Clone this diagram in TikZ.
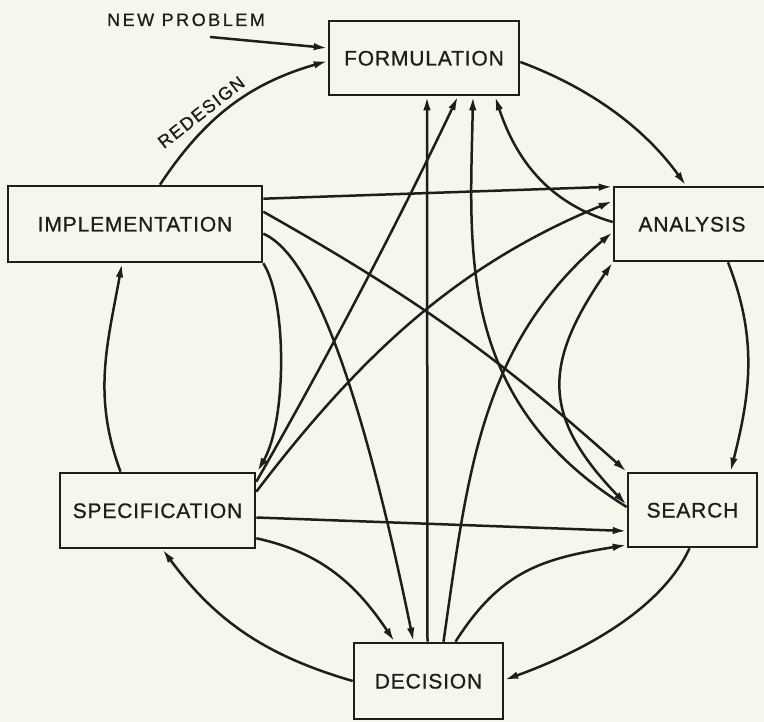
\documentclass[tikz,border=0pt]{standalone}
\usepackage{fontspec}
\newfontfamily\boxfont{Liberation Sans}[LetterSpace=4,FakeBold=0.8]
\newfontfamily\lblfont{Liberation Sans}[LetterSpace=14,FakeBold=0.8]
\newfontfamily\rdfont{Liberation Sans}[LetterSpace=8,FakeBold=0.8]
\usetikzlibrary{arrows.meta}
\definecolor{bg}{RGB}{245,246,236}
\definecolor{ink}{RGB}{30,30,28}
\begin{document}
\begin{tikzpicture}[x=1pt,y=-1pt,
  box/.style={draw=ink, line width=2.6pt, inner sep=0pt, text height=15pt, text depth=0pt,
    font=\boxfont\fontsize{21}{24}\selectfont, text=ink},
  arr/.style={draw=ink, line width=2.5pt, -{Latex[length=14pt,width=7.5pt]}},
  arrtwo/.style={draw=ink, line width=2.5pt, {Latex[length=14pt,width=7.5pt]}-{Latex[length=14pt,width=7.5pt]}},
  lbl/.style={font=\lblfont\fontsize{18}{20}\selectfont, text=ink, inner sep=0pt, text height=13pt, text depth=0pt}]
\fill[bg] (0,0) rectangle (764,722);
\useasboundingbox (0,0) rectangle (764,722);
\clip (0,0) rectangle (764,722);

% boxes
\node[box, minimum width=190pt, minimum height=74pt] (form) at (424,58) {FORMULATION};
\node[box, minimum width=254pt, minimum height=76pt] (impl) at (135,224) {IMPLEMENTATION};
\node[box, minimum width=156pt, minimum height=74pt] (anal) at (692,224) {ANALYSIS};
\node[box, minimum width=129pt, minimum height=74pt] (search) at (692.5,510) {SEARCH};
\node[box, minimum width=149pt, minimum height=76pt] (dec) at (428.5,681) {DECISION};
\node[box, minimum width=195pt, minimum height=75pt] (spec) at (157.5,510.5) {SPECIFICATION};

% labels
\node[lbl] (newprob) at (186,19.5) {NEW PROBLEM};
\coordinate (np) at (210,37);
\node[lbl, font=\rdfont\fontsize{18}{20}\selectfont, rotate=38] (redesign) at (201,112) {REDESIGN};

% outer cycle
\draw[arr] (np) -- ([yshift=10pt]form.west);
\draw[arr] ([xshift=25pt]impl.north) .. controls (204.7,117.2) and (249.2,83.6) .. ([yshift=-3pt]form.west);
\draw[arr] ([yshift=-4pt]form.east) .. controls (588,87) and (643.9,126.9) .. ([xshift=-6pt]anal.north);
\draw[arr] ([xshift=36pt]anal.south) .. controls (757.7,338.5) and (750.6,392.5) .. ([xshift=38pt]search.north);
\draw[arr] ([xshift=-3pt]search.south) .. controls (659.6,613.3) and (572.7,655.4) .. ([yshift=1pt]dec.east);
\draw[arr] (dec.west) .. controls (266.5,655.9) and (216,621.6) .. ([xshift=5pt]spec.south);
\draw[arr] ([xshift=-37pt]spec.north) .. controls (92.1,395) and (107.6,343.7) .. ([xshift=-13pt]impl.south);

% from implementation
\draw[arr] ([yshift=-14pt]impl.north east) -- ([yshift=-1pt]anal.north west);
\draw[arr] ([yshift=-27pt]impl.north east) .. controls (416,298) and (497,356) .. (search.north west);
\draw[arr] ([yshift=-49pt]impl.north east) .. controls (320,258) and (370,430) .. ([xshift=-15pt]dec.north);
\draw[arr] (impl.south east) .. controls (287,300) and (287,420) .. ([xshift=1pt]spec.north east);

% from specification
\draw[arr] ([yshift=-10pt]spec.north east) .. controls (328,356.5) and (395.6,227.1) .. ([xshift=34pt]form.south);
\draw[arr] ([yshift=-20pt]spec.north east) .. controls (368,345) and (465,262) .. ([yshift=23pt]anal.west);
\draw[arr] ([yshift=-7pt]spec.east) -- ([yshift=-21pt]search.west);
\draw[arr] ([yshift=11pt]spec.south east) .. controls (322,552.5) and (357,585.4) .. ([xshift=-34pt]dec.north);

% from decision
\draw[arr] ([xshift=-1pt]dec.north) -- ([xshift=3pt]form.south);
\draw[arr] ([xshift=15pt]dec.north) .. controls (468,471) and (480.7,343.8) .. ([yshift=-8pt]anal.west);
\draw[arr] ([xshift=27pt]dec.north) .. controls (501,570) and (543,558.5) .. ([yshift=-35pt]search.west);

% from search / analysis
\draw[arr] ([yshift=3pt]search.west) .. controls (455,400) and (470,250) .. ([xshift=49pt]form.south);
\draw[arr] ([yshift=2pt]anal.west) .. controls (548.6,203.3) and (516,159.7) .. ([xshift=71pt]form.south);
\draw[arrtwo] ([yshift=5pt]search.west) .. controls (541,416) and (543,363.6) .. (anal.south west);
\end{tikzpicture}
\end{document}
